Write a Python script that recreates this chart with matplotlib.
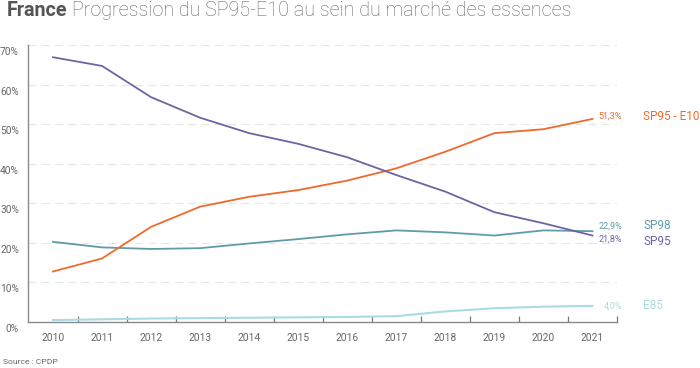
import matplotlib
matplotlib.use("Agg")
import matplotlib.pyplot as plt
import matplotlib.transforms as mtransforms
from matplotlib.ticker import FixedLocator

plt.rcParams['font.family'] = ['Roboto', 'DejaVu Sans']

years = list(range(2010, 2022))
sp95_e10 = [12.7, 16.0, 24.0, 29.1, 31.6, 33.3, 35.7, 38.8, 43.0, 47.7, 48.7, 51.3]
sp95 = [66.9, 64.7, 56.8, 51.6, 47.7, 45.0, 41.6, 37.1, 32.9, 27.7, 24.9, 21.8]
sp98 = [20.2, 18.8, 18.4, 18.6, 19.8, 20.9, 22.1, 23.1, 22.6, 21.8, 23.1, 22.9]
e85 = [0.4, 0.6, 0.8, 0.9, 1.0, 1.1, 1.2, 1.4, 2.6, 3.4, 3.8, 4.0]

series_names = ["SP95 - E10", "SP98", "SP95", "E85"]
value_labels = ["51,3%", "22,9%", "21,8%", "4,0%"]
yticks = [0, 10, 20, 30, 40, 50, 60, 70]
ytick_labels = ["0%", "10%", "20%", "30%", "40%", "50%", "60%", "70%"]
title_bold = "France"
title_rest = "Progression du SP95-E10 au sein du marché des essences"
source = "Source : CPDP"

colors = {"SP95 - E10": "#f0692c", "SP98": "#5f9ca8", "SP95": "#6c65a2", "E85": "#a8dbe3"}
data = {"SP95 - E10": sp95_e10, "SP98": sp98, "SP95": sp95, "E85": e85}

fig = plt.figure(figsize=(7, 3.68), dpi=100)
ax = fig.add_axes([28/700, 1 - 321.7/368, (617 - 28)/700, (321.7 - 45)/368])

for name in ["E85", "SP98", "SP95 - E10", "SP95"]:
    ax.plot(years, data[name], color=colors[name], lw=1.3 if name != "E85" else 1.5,
            solid_joinstyle='round', zorder=3, clip_on=False)

ax.set_xlim(2009.49, 2021.5)
ax.set_ylim(0, 70)

# grid
for v in yticks[1:]:
    ax.axhline(v, color="#e6e6e6", lw=0.8, dashes=(7, 5), zorder=1)

for s in ["top", "right"]:
    ax.spines[s].set_visible(False)
for s in ["left", "bottom"]:
    ax.spines[s].set_color("#8a8a8a")
    ax.spines[s].set_linewidth(1.0)

ax.set_yticks(yticks)
ax.set_yticklabels(ytick_labels)
ax.tick_params(axis='y', length=0, pad=6.5, labelsize=7.3, labelcolor="#666666")
off = mtransforms.ScaledTranslation(0, -6/100, fig.dpi_scale_trans)
for lab in ax.get_yticklabels():
    lab.set_transform(lab.get_transform() + off)

ax.set_xticks(years)
ax.set_xticklabels([str(y) for y in years])
ax.tick_params(axis='x', which='major', length=0, pad=8, labelsize=7.4, labelcolor="#666666")
ax.xaxis.set_minor_locator(FixedLocator([y + 0.5 for y in years]))
ax.tick_params(axis='x', which='minor', direction='in', length=4.3, width=0.9, color="#777777")

# end labels (label positions nudged apart as in the reference)
val_y = {"SP95 - E10": 52.0, "SP98": 24.2, "SP95": 21.0, "E85": 4.05}
name_y = {"SP95 - E10": 52.0, "SP98": 24.3, "SP95": 20.4, "E85": 4.05}
trans_v = mtransforms.blended_transform_factory(fig.transFigure, ax.transData)
for name, lab in zip(series_names, value_labels):
    ax.text(622/700, val_y[name], lab, transform=trans_v, ha='right', va='center',
            fontsize=6.5, color=colors[name])
    ax.text(643/700, name_y[name], name, transform=trans_v, ha='left', va='center',
            fontsize=8.5, color=colors[name])

t1 = fig.text(7/700, 1 - 11/368, title_bold, fontsize=14.2, fontweight='bold', color="#555555",
              ha='left', va='center')
fig.canvas.draw()
bb = t1.get_window_extent()
fig.text((bb.x1 + 4) / 700, 1 - 11/368, title_rest, fontsize=14.2, fontweight='light',
         color="#666666", ha='left', va='center')

fig.text(3/700, 1 - 362/368, source, fontsize=6.1, color="#666666", ha='left', va='center')

fig.savefig("out.png", dpi=100)
